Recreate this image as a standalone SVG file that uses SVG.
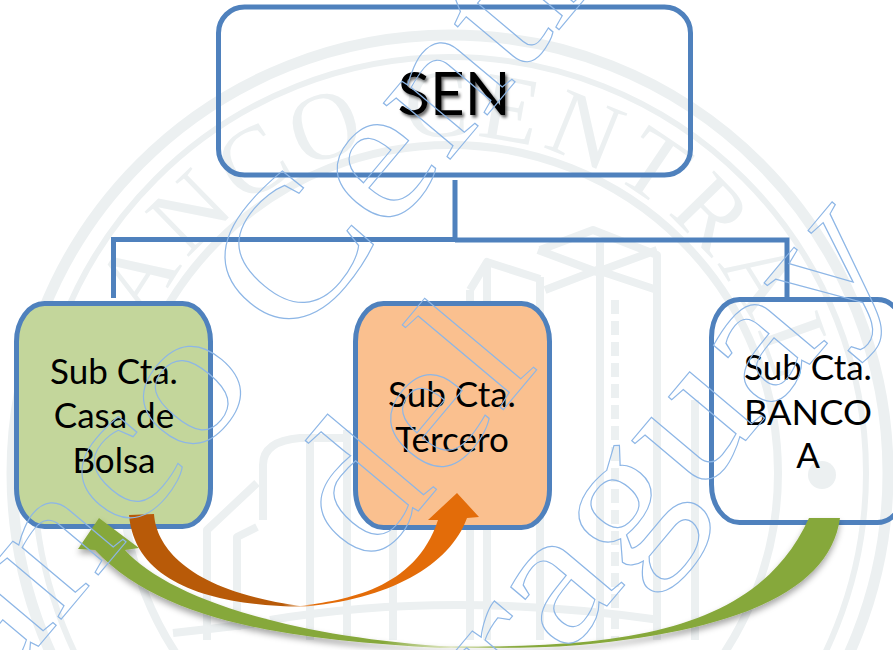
<svg xmlns="http://www.w3.org/2000/svg" width="893" height="650" viewBox="0 0 893 650">
<style>
.ring{fill:none;stroke:#ecf0f1}
.bld{fill:none;stroke:#ecf0f1;stroke-width:8;stroke-linejoin:round}
.seal{font-family:"Liberation Serif",serif;font-size:96px;fill:#ecf0f1}
.box{stroke:#4f81bd;stroke-width:5}
.lbl{font-family:Lato,"Liberation Sans",sans-serif;font-size:35px;fill:#000;text-anchor:middle}
.wm{font-family:"Liberation Serif",serif;font-size:190px;fill:none;stroke:#8db6e6;stroke-width:1.1}
.conn{fill:none;stroke:#4f81bd;stroke-width:5}
</style>
<defs>
<path id="sealArc" d="M117,532 A338,338 0 1 1 783,532"/>
<filter id="txtShadow" x="-20%" y="-20%" width="140%" height="150%"><feDropShadow dx="2" dy="2.5" stdDeviation="1.5" flood-color="#000" flood-opacity="0.6"/></filter>
<filter id="lineShadow" x="-300%" y="-10%" width="700%" height="120%"><feDropShadow dx="-1" dy="1" stdDeviation="2" flood-color="#000" flood-opacity="0.45"/></filter>
<filter id="arrowShadow" x="-5%" y="-10%" width="110%" height="130%"><feDropShadow dx="0" dy="4" stdDeviation="3" flood-color="#000" flood-opacity="0.35"/></filter>
<linearGradient id="orangeGrad" gradientUnits="userSpaceOnUse" x1="129" y1="0" x2="479" y2="0">
<stop offset="0.44" stop-color="#b85a08"/><stop offset="0.49" stop-color="#f3cfae"/><stop offset="0.53" stop-color="#e36c09"/>
</linearGradient>
<linearGradient id="greenGrad" gradientUnits="userSpaceOnUse" x1="78" y1="0" x2="840" y2="0">
<stop offset="0.40" stop-color="#86a83a"/><stop offset="0.49" stop-color="#e2e8c8"/><stop offset="0.58" stop-color="#86a83a"/>
</linearGradient>
</defs>
<rect width="893" height="650" fill="#fff"/>
<g id="seal">
<circle class="ring" cx="450" cy="473" r="438" stroke-width="11"/>
<circle class="ring" cx="450" cy="473" r="416" stroke-width="6"/>
<circle class="ring" cx="450" cy="473" r="328" stroke-width="8"/>
<text class="seal" letter-spacing="7"><textPath href="#sealArc" startOffset="50%" text-anchor="middle">BANCO CENTRAL</textPath></text>
<circle cx="822" cy="475" r="14" fill="#ecf0f1"/>
<path class="bld" d="M540,277 V640 M540,250 L593,230 L657,255 V640 M538,250 L597,272 L657,250 M600,243 V640 M545,290 L597,270 L657,290"/>
<path class="bld" d="M487,262 L540,279 M470,290 L487,262 V640 M470,290 V640"/>
<path class="bld" d="M207,640 V530 L257,483 M237,630 V537 L257,527 M263,520 V465 Q263,441 300,438 H350 M310,640 V440 M347,640 V430 M393,640 V400"/>
<path class="bld" d="M173,633 Q220,628 267,622 M270,620 Q450,590 660,620 M695,640 V400"/>
<path class="bld" stroke-dasharray="14 7" stroke-width="16" d="M615,300 V640"/>
</g>
<g id="connectors">
<path class="conn" d="M113.5,298 V239.5 H455 M455,240 H787 V298 M455,180 V240"/>
<path class="conn" filter="url(#lineShadow)" d="M455,240 V303"/>
</g>
<g id="node-sen">
<rect class="box" x="218.5" y="7" width="472" height="168" rx="26" ry="26" fill="none"/>
<text x="454" y="115" text-anchor="middle" filter="url(#txtShadow)" style="font-family:Lato,'Liberation Sans',sans-serif;font-size:60px;fill:#000">SEN</text>
</g>
<g id="node-casa">
<rect class="box" x="16.5" y="303.5" width="194" height="223" rx="28" ry="38" fill="#c3d69b"/>
<text class="lbl" x="114" y="384">Sub Cta.</text>
<text class="lbl" x="114" y="428">Casa de</text>
<text class="lbl" x="114" y="473">Bolsa</text>
</g>
<g id="node-tercero">
<rect class="box" x="355.5" y="303.5" width="194" height="224" rx="28" ry="38" fill="#fac08f"/>
<text class="lbl" x="452" y="407">Sub Cta.</text>
<text class="lbl" x="452" y="452">Tercero</text>
</g>
<g id="node-banco">
<rect class="box" x="711.5" y="299.5" width="194" height="223" rx="28" ry="38" fill="none"/>
<text class="lbl" x="808" y="380">Sub Cta.</text>
<text class="lbl" x="808" y="425" textLength="128" lengthAdjust="spacingAndGlyphs">BANCO</text>
<text class="lbl" x="808" y="468">A</text>
</g>
<g id="arrows">
<path id="arrow-green" filter="url(#arrowShadow)" fill="url(#greenGrad)" d="M809,518 L840,518 C830,590 740,630 580,645 C530,649 480,648 440,648 C300,640 165,625 95,550 L78,549 L99,518 L139,548 L125,550 C165,595 280,635 440,646 C640,650 760,625 809,518 Z"/>
<path id="arrow-orange" fill="url(#orangeGrad)" d="M129,515 L154,514 C156,545 185,590 300,606 C345,600 415,590 438,520 L428,520 L457,493 L479,517 L467,518 C450,565 390,600 300,607 C215,605 135,585 129,515 Z"/>
</g>
<g id="watermark">
<text class="wm" transform="translate(-98,809) rotate(-50) scale(1.15,1)">Banco</text>
<text class="wm" transform="translate(291,349) rotate(-50) scale(1.15,1)">Central</text>
<text class="wm" transform="translate(368,571) rotate(-50) scale(1.15,1)">del</text>
<text class="wm" transform="translate(377,880) rotate(-50) scale(1.15,1)">Paraguay</text>
</g>
</svg>
